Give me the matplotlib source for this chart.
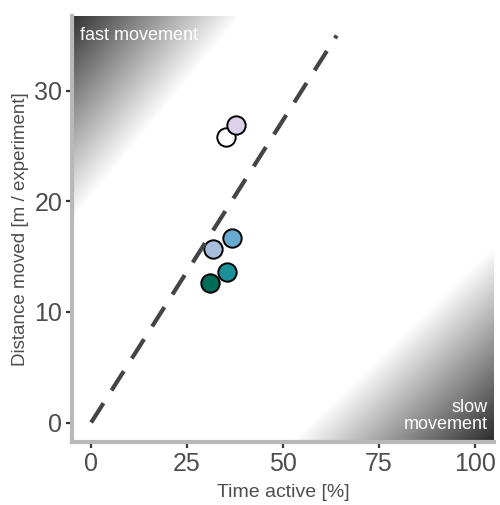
import numpy as np
import matplotlib.pyplot as plt
from matplotlib.lines import Line2D

plt.rcParams["font.family"] = ["Liberation Sans", "DejaVu Sans"]

# data
time_active = [35.2, 37.8, 31.7, 36.6, 35.3, 31.0]
distance = [25.8, 26.9, 15.7, 16.7, 13.65, 12.65]
colors = ["#ffffff", "#ddd0ea", "#a6bddb", "#67a9cf", "#1c9099", "#016c59"]
ref_x = [0, 64]
ref_y = [0, 35]

fig = plt.figure(figsize=(5.0, 5.05), dpi=100)
ax = fig.add_axes([0.144, 0.125, 0.844, 0.843])
ax.set_xlim(-5, 105)
ax.set_ylim(-1.75, 36.75)

# corner gradients (axes fraction coords)
n = 400
gx, gy = np.meshgrid(np.linspace(0, 1, n), np.linspace(0, 1, n))
d_tl = gx / 0.40 + (1 - gy) / 0.48
d_br = (1 - gx) / 0.48 + gy / 0.46
shade_tl = np.clip(0.2 + 0.8 * d_tl, 0, 1)
shade_br = np.clip(0.17 + 0.83 * d_br, 0, 1)
shade = np.minimum(shade_tl, shade_br)
ax.imshow(shade, cmap="gray", vmin=0, vmax=1, extent=[0, 1, 0, 1],
          origin="lower", transform=ax.transAxes, aspect="auto",
          interpolation="bilinear", zorder=0)

ax.text(0.02, 0.975, "fast movement", transform=ax.transAxes, color="white",
        fontsize=13, ha="left", va="top")
ax.text(0.985, 0.02, "slow\nmovement", transform=ax.transAxes, color="white",
        fontsize=13, ha="right", va="bottom", multialignment="right",
        linespacing=1.0)

for x, y, c in zip(time_active, distance, colors):
    ax.scatter(x, y, s=175, color=c, edgecolor="black", linewidth=1.4, zorder=3)

ax.add_line(Line2D(ref_x, ref_y, color="#444444", linewidth=3.0,
                   linestyle=(0, (5.5, 3.6)), zorder=4))

ax.set_xticks([0, 25, 50, 75, 100])
ax.set_yticks([0, 10, 20, 30])
ax.tick_params(axis="both", labelsize=18, labelcolor="#4d4d4d",
               color="#333333", length=4, width=1.6, pad=3)
for s in ["top", "right"]:
    ax.spines[s].set_visible(False)
for s in ["left", "bottom"]:
    ax.spines[s].set_color("#b8b8b8")
    ax.spines[s].set_linewidth(3.0)

ax.set_xlabel("Time active [%]", fontsize=14, color="#4d4d4d", labelpad=6)
ax.set_ylabel("Distance moved [m / experiment]", fontsize=13.5,
              color="#4d4d4d", labelpad=4)

fig.savefig("out.png", dpi=100)
